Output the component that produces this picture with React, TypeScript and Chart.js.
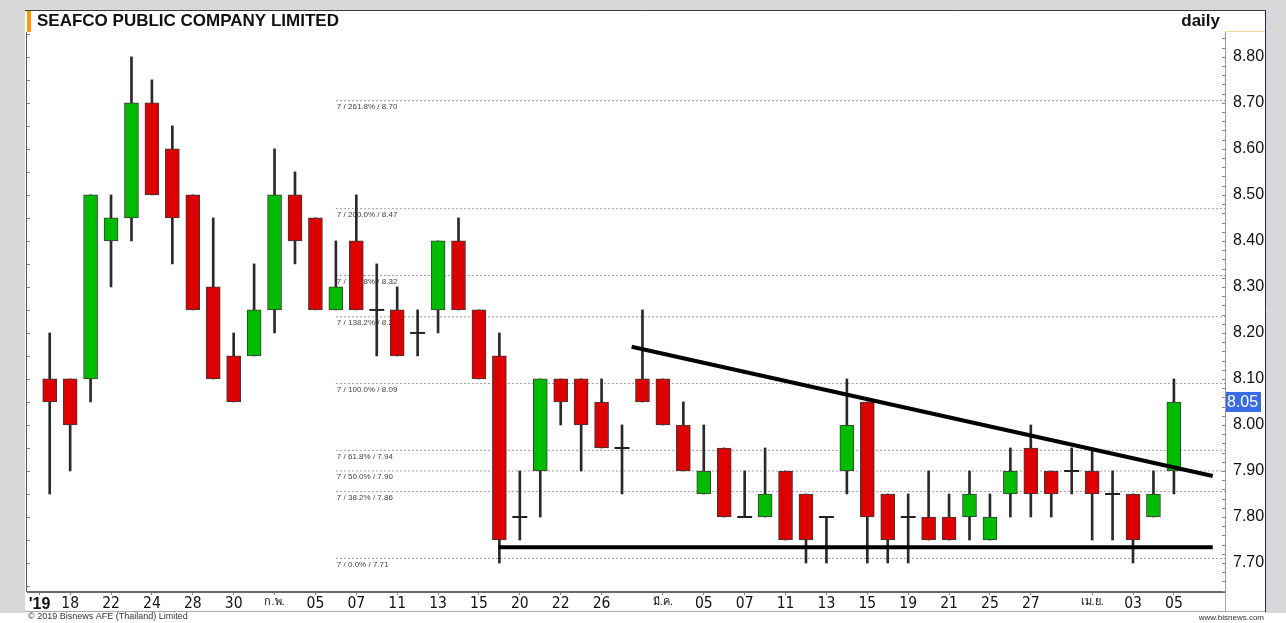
import React, { useEffect, useRef } from 'react';
import { Chart, registerables } from 'chart.js';

Chart.register(...registerables);

// ---------- data ----------
const dates = [
  '2019-01-17', '2019-01-18', '2019-01-21', '2019-01-22', '2019-01-23', '2019-01-24', '2019-01-25',
  '2019-01-28', '2019-01-29', '2019-01-30', '2019-01-31', '2019-02-01', '2019-02-04', '2019-02-05',
  '2019-02-06', '2019-02-07', '2019-02-08', '2019-02-11', '2019-02-12', '2019-02-13', '2019-02-14',
  '2019-02-15', '2019-02-18', '2019-02-20', '2019-02-21', '2019-02-22', '2019-02-25', '2019-02-26',
  '2019-02-27', '2019-02-28', '2019-03-01', '2019-03-04', '2019-03-05', '2019-03-06', '2019-03-07',
  '2019-03-08', '2019-03-11', '2019-03-12', '2019-03-13', '2019-03-14', '2019-03-15', '2019-03-18',
  '2019-03-19', '2019-03-20', '2019-03-21', '2019-03-22', '2019-03-25', '2019-03-26', '2019-03-27',
  '2019-03-28', '2019-03-29', '2019-04-01', '2019-04-02', '2019-04-03', '2019-04-04', '2019-04-05',
];
const opens = [
  8.10, 8.10, 8.10, 8.40, 8.45, 8.70, 8.60, 8.50, 8.30, 8.15, 8.15, 8.25, 8.50, 8.45,
  8.25, 8.40, 8.25, 8.25, 8.20, 8.25, 8.40, 8.25, 8.15, 7.80, 7.90, 8.10, 8.10, 8.05,
  7.95, 8.10, 8.10, 8.00, 7.85, 7.95, 7.80, 7.80, 7.90, 7.85, 7.80, 7.90, 8.05, 7.85,
  7.80, 7.80, 7.80, 7.80, 7.75, 7.85, 7.95, 7.90, 7.90, 7.90, 7.85, 7.85, 7.80, 7.90,
];
const highs = [
  8.20, 8.10, 8.50, 8.50, 8.80, 8.75, 8.65, 8.50, 8.45, 8.20, 8.35, 8.60, 8.55, 8.45,
  8.40, 8.50, 8.35, 8.30, 8.25, 8.40, 8.45, 8.25, 8.20, 7.90, 8.10, 8.10, 8.10, 8.10,
  8.00, 8.25, 8.10, 8.05, 8.00, 7.95, 7.90, 7.95, 7.90, 7.85, 7.80, 8.10, 8.05, 7.85,
  7.85, 7.90, 7.85, 7.90, 7.85, 7.95, 8.00, 7.90, 7.95, 7.95, 7.90, 7.85, 7.90, 8.10,
];
const lows = [
  7.85, 7.90, 8.05, 8.30, 8.40, 8.50, 8.35, 8.25, 8.10, 8.05, 8.15, 8.20, 8.35, 8.25,
  8.25, 8.25, 8.15, 8.15, 8.15, 8.20, 8.25, 8.10, 7.70, 7.75, 7.80, 8.00, 7.90, 7.95,
  7.85, 8.05, 8.00, 7.90, 7.85, 7.80, 7.80, 7.80, 7.75, 7.70, 7.70, 7.85, 7.70, 7.70,
  7.70, 7.75, 7.75, 7.75, 7.75, 7.80, 7.80, 7.80, 7.85, 7.75, 7.75, 7.70, 7.80, 7.85,
];
const closes = [
  8.05, 8.00, 8.50, 8.45, 8.70, 8.50, 8.45, 8.25, 8.10, 8.05, 8.25, 8.50, 8.40, 8.25,
  8.30, 8.25, 8.25, 8.15, 8.20, 8.40, 8.25, 8.10, 7.75, 7.80, 8.10, 8.05, 8.00, 7.95,
  7.95, 8.05, 8.00, 7.90, 7.90, 7.80, 7.80, 7.85, 7.75, 7.75, 7.80, 8.00, 7.80, 7.75,
  7.80, 7.75, 7.75, 7.85, 7.80, 7.90, 7.85, 7.85, 7.90, 7.85, 7.85, 7.75, 7.85, 8.05,
];

// x-axis tick labels (position = trading-day index)
const tickIndex = [-0.5, 1, 3, 5, 7, 9, 11, 13, 15, 17, 19, 21, 23, 25, 27, 30, 32, 34, 36, 38, 40, 42, 44, 46, 48, 51, 53, 55];
const tickText = ["'19", '18', '22', '24', '28', '30', 'ก.พ.', '05', '07', '11', '13', '15', '20', '22', '26',
  'มี.ค.', '05', '07', '11', '13', '15', '19', '21', '25', '27', 'เม.ย.', '03', '05'];

// y-axis ticks
const yTickValues = [7.7, 7.8, 7.9, 8.0, 8.1, 8.2, 8.3, 8.4, 8.5, 8.6, 8.7, 8.8];

// Fibonacci projection tool
const fibLow = 7.71;
const fibHigh = 8.09;
const fibRatios = [2.618, 2.0, 1.618, 1.382, 1.0, 0.618, 0.5, 0.382, 0.0];
const fibStartIndex = 14;

// hand-drawn trend lines (index, price)
const resistanceX = [28.47, 56.9];
const resistanceY = [8.17, 7.889];
const supportX = [21.95, 56.9];
const supportY = [7.734, 7.734];

// axis ranges
const xMin = -1.062;
const xMax = 57.5;
const yMin = 7.637;
const yMax = 8.854;

// ---------- styles ----------
const UP = '#00bb00';
const DOWN = '#dd0000';
const SANS = "'Liberation Sans', Arial, Helvetica, sans-serif";
const NARROW = "'Liberation Sans Narrow', 'Arial Narrow', 'DejaVu Sans Condensed', 'Liberation Sans', sans-serif";

const fibLevel = (r: number) => fibLow + r * (fibHigh - fibLow);

const framePlugin = {
  id: 'frame',
  beforeDraw(chart: any) {
    const { ctx, width, height, chartArea } = chart;
    const yS = chart.scales.y;
    ctx.save();
    ctx.fillStyle = '#ffffff';
    ctx.fillRect(0, 0, width, height);
    ctx.fillStyle = '#d8d8d8';
    ctx.fillRect(0, 0, width, 613);
    ctx.fillStyle = '#ffffff';
    ctx.fillRect(25, 11, yS.right - 25, 602);
    // panel borders
    ctx.strokeStyle = '#3a3a3a';
    ctx.lineWidth = 1;
    ctx.beginPath();
    ctx.moveTo(25, 10.5);
    ctx.lineTo(yS.right + 1, 10.5);
    ctx.stroke();
    ctx.strokeStyle = '#1c2a6b';
    ctx.beginPath();
    ctx.moveTo(yS.right + 0.5, 11);
    ctx.lineTo(yS.right + 0.5, 612);
    ctx.stroke();
    // y axis box top
    ctx.strokeStyle = '#efdc9c';
    ctx.beginPath();
    ctx.moveTo(chartArea.right, chartArea.top - 0.5);
    ctx.lineTo(yS.right, chartArea.top - 0.5);
    ctx.stroke();
    // bottom of x label row
    ctx.strokeStyle = '#a8a8a8';
    ctx.beginPath();
    ctx.moveTo(25, 611.5);
    ctx.lineTo(yS.right, 611.5);
    ctx.moveTo(chartArea.right + 0.5, chartArea.bottom);
    ctx.lineTo(chartArea.right + 0.5, 612);
    ctx.stroke();
    // left edge
    ctx.strokeStyle = '#555';
    ctx.beginPath();
    ctx.moveTo(26.5, chartArea.top);
    ctx.lineTo(26.5, chartArea.bottom);
    ctx.stroke();
    // orange marker + title
    ctx.fillStyle = '#ff9900';
    ctx.fillRect(27, 11, 4, 21);
    ctx.fillStyle = '#111';
    ctx.font = `bold 17px ${SANS}`;
    ctx.textBaseline = 'middle';
    ctx.textAlign = 'left';
    ctx.fillText('SEAFCO PUBLIC COMPANY LIMITED', 37, 21.5);
    ctx.textAlign = 'right';
    ctx.fillText('daily', 1220, 21.5);
    // footer
    ctx.fillStyle = '#333';
    ctx.font = `9px ${SANS}`;
    ctx.textAlign = 'left';
    ctx.fillText('© 2019 Bisnews AFE (Thailand) Limited', 28, 617);
    ctx.font = `8px ${SANS}`;
    ctx.textAlign = 'right';
    ctx.fillText('www.bisnews.com', 1264, 618);
    ctx.restore();
  },
  beforeDatasetsDraw(chart: any) {
    const { ctx, scales } = chart;
    const x = scales.x;
    const y = scales.y;
    ctx.save();
    ctx.font = `8px ${SANS}`;
    ctx.fillStyle = '#444';
    ctx.textAlign = 'left';
    ctx.textBaseline = 'alphabetic';
    const px = x.getPixelForValue(fibStartIndex);
    fibRatios.forEach((r) => {
      const v = fibLevel(r);
      const py = y.getPixelForValue(v);
      ctx.fillText(`7 / ${(r * 100).toFixed(1)}% / ${v.toFixed(2)}`, px + 1, py + 8.5);
    });
    ctx.restore();
  },
  afterDraw(chart: any) {
    const { ctx, chartArea, scales } = chart;
    const y = scales.y;
    ctx.save();
    // minor ticks on the price axis and on the left edge
    ctx.strokeStyle = '#888';
    ctx.lineWidth = 1;
    ctx.beginPath();
    for (let k = Math.ceil(yMin * 50); k <= Math.floor(yMax * 50); k++) {
      const py = Math.round(y.getPixelForValue(k / 50)) + 0.5;
      ctx.moveTo(chartArea.right - 3, py);
      ctx.lineTo(chartArea.right, py);
    }
    for (let k = Math.ceil(yMin * 20); k <= Math.floor(yMax * 20); k++) {
      const py = Math.round(y.getPixelForValue(k / 20)) + 0.5;
      ctx.moveTo(27, py);
      ctx.lineTo(30, py);
    }
    ctx.stroke();
    // last price tag
    const last = closes[closes.length - 1];
    const py = y.getPixelForValue(last);
    ctx.fillStyle = '#3a6be6';
    ctx.fillRect(chartArea.right + 1, py - 10, 35, 20);
    ctx.fillStyle = '#ffffff';
    ctx.font = `16px ${SANS}`;
    ctx.textAlign = 'left';
    ctx.textBaseline = 'middle';
    ctx.fillText(last.toFixed(2), chartArea.right + 2, py + 1);
    ctx.restore();
  },
};

export default function App() {
  const ref = useRef<HTMLCanvasElement>(null);

  useEffect(() => {
    const idx = opens.map((_, i) => i);
    const bodyColors = idx.map((i) => (closes[i] >= opens[i] ? UP : DOWN));
    const dojis = idx.filter((i) => opens[i] === closes[i]).map((i) => ({ x: i, y: opens[i] }));

    const fibSets = fibRatios.map((r) => ({
      type: 'line' as const,
      data: [
        { x: fibStartIndex, y: fibLevel(r) },
        { x: xMax, y: fibLevel(r) },
      ],
      borderColor: '#9a9a9a',
      borderWidth: 1,
      borderDash: [2, 2],
      pointRadius: 0,
      order: 10,
    }));

    const chart = new Chart(ref.current as HTMLCanvasElement, {
      type: 'bar',
      data: {
        datasets: [
          ...fibSets,
          {
            type: 'bar',
            label: 'wick',
            data: idx.map((i) => ({ x: i, y: [lows[i], highs[i]] })) as any,
            backgroundColor: '#2a2a2a',
            borderWidth: 0,
            barThickness: 2,
            grouped: false,
            order: 4,
          },
          {
            type: 'bar',
            label: 'body',
            data: idx.map((i) => ({ x: i, y: [opens[i], closes[i]] })) as any,
            backgroundColor: bodyColors,
            borderColor: '#3a3a3a',
            borderWidth: 1,
            borderSkipped: false,
            barThickness: 14,
            grouped: false,
            order: 3,
          },
          {
            type: 'line',
            label: 'doji',
            data: dojis,
            showLine: false,
            pointStyle: 'line',
            pointRadius: 7.5,
            pointHoverRadius: 7.5,
            pointBorderWidth: 2,
            pointBorderColor: '#222',
            borderColor: '#222',
            order: 2,
          },
          {
            type: 'line',
            label: 'resistance',
            data: resistanceX.map((x, i) => ({ x, y: resistanceY[i] })),
            borderColor: '#000',
            borderWidth: 4,
            pointRadius: 0,
            order: 0,
          },
          {
            type: 'line',
            label: 'support',
            data: supportX.map((x, i) => ({ x, y: supportY[i] })),
            borderColor: '#000',
            borderWidth: 4,
            pointRadius: 0,
            order: 0,
          },
        ] as any,
      },
      options: {
        animation: false,
        responsive: false,
        devicePixelRatio: 1,
        events: [],
        layout: { padding: { left: 28, top: 32, right: 21, bottom: 11 } },
        plugins: {
          legend: { display: false },
          tooltip: { enabled: false },
          title: { display: false },
        },
        scales: {
          x: {
            type: 'linear',
            min: xMin,
            max: xMax,
            offset: false,
            bounds: 'data',
            grid: { display: true, drawOnChartArea: false, drawTicks: true, tickLength: 3, color: '#888', offset: false },
            border: { display: true, color: '#6a6a6a', width: 2 },
            afterBuildTicks: (axis: any) => {
              axis.ticks = tickIndex.map((v) => ({ value: v }));
            },
            afterFit: (axis: any) => {
              axis.height = 20;
            },
            ticks: {
              autoSkip: false,
              maxRotation: 0,
              minRotation: 0,
              padding: 0,
              color: '#111',
              font: (c: any) => {
                const t = tickText[c.index] ?? '';
                if (/[\u0E00-\u0E7F]/.test(t)) return { family: SANS, size: 11, weight: 'normal' };
                if (t.startsWith("'")) return { family: SANS, size: 16, weight: 'bold' };
                return { family: NARROW, size: 15.5, weight: 'normal' };
              },
              callback: (_v: any, i: number) => tickText[i],
            },
          },
          y: {
            type: 'linear',
            position: 'right',
            min: yMin,
            max: yMax,
            bounds: 'data',
            grid: { display: false, drawTicks: false },
            border: { display: true, color: '#999', width: 1, dash: [1, 1] },
            afterBuildTicks: (axis: any) => {
              axis.ticks = yTickValues.map((v) => ({ value: v }));
            },
            afterFit: (axis: any) => {
              axis.width = 40;
            },
            ticks: {
              padding: 8,
              color: '#111',
              font: { family: SANS, size: 16 },
              callback: (v: any) => Number(v).toFixed(2),
            },
          },
        },
      } as any,
      plugins: [framePlugin],
    });
    return () => chart.destroy();
  }, []);

  return (
    <div style={{ position: 'fixed', left: 0, top: 0, width: 1286, height: 623, background: '#fff' }}>
      <canvas ref={ref} width={1286} height={623} style={{ display: 'block', width: 1286, height: 623 }} />
    </div>
  );
}
